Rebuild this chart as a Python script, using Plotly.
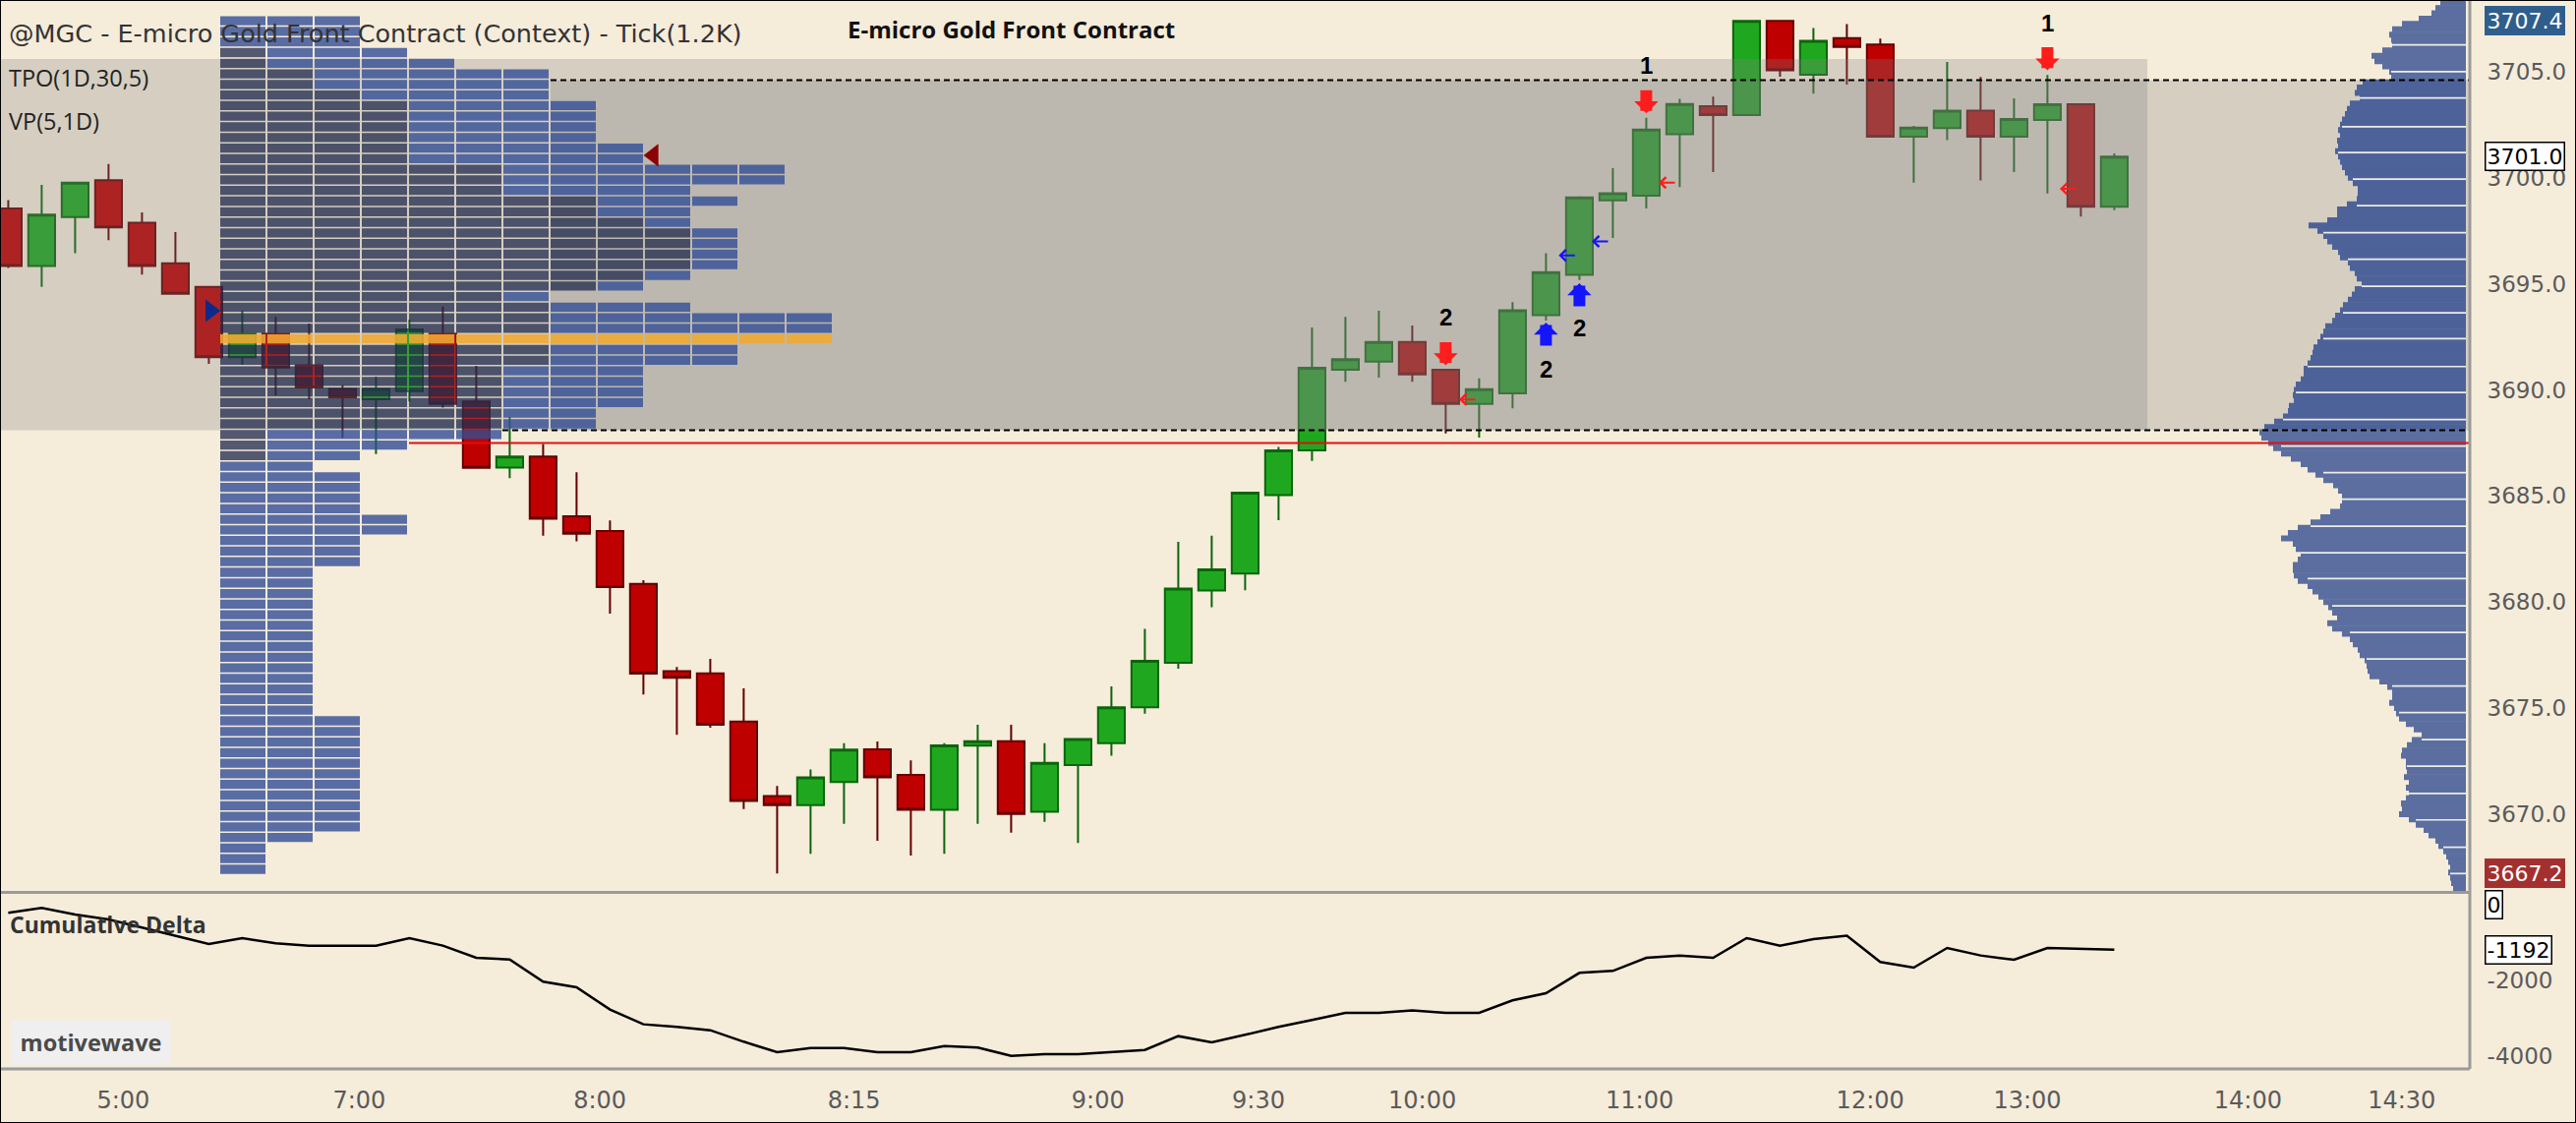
import plotly.graph_objects as go

# ---- bars of the tick chart (1.2K ticks per bar), index 0..63 ----
opens = [3698.55, 3695.84, 3698.15, 3699.88, 3697.88, 3695.97, 3694.86, 3691.54, 3692.65, 3691.16,
         3690.05, 3689.56, 3689.94, 3692.65, 3689.45, 3686.34, 3686.86, 3684.04, 3683.35, 3680.86,
         3676.74, 3676.64, 3674.36, 3670.85, 3670.43, 3671.51, 3673.06, 3671.85, 3670.21, 3673.23,
         3673.44, 3670.11, 3672.32, 3673.34, 3675.04, 3677.14, 3680.54, 3681.34, 3685.04, 3687.15,
         3690.95, 3691.33, 3692.26, 3690.95, 3689.34, 3689.84, 3693.52, 3695.42, 3698.94, 3699.15,
         3702.05, 3703.37, 3702.96, 3707.39, 3704.86, 3706.58, 3706.28, 3701.94, 3702.34, 3703.16,
         3701.94, 3702.72, 3703.47, 3698.63]
highs = [3698.95, 3699.66, 3699.80, 3700.65, 3698.37, 3697.44, 3694.90, 3693.73, 3693.44, 3693.13,
         3690.23, 3690.63, 3693.31, 3693.93, 3691.14, 3688.72, 3687.45, 3686.12, 3683.84, 3681.03,
         3676.94, 3677.32, 3675.93, 3671.33, 3672.11, 3673.34, 3673.43, 3672.53, 3673.34, 3674.22,
         3674.22, 3673.34, 3673.54, 3676.02, 3678.74, 3682.84, 3683.13, 3685.20, 3687.31, 3692.94,
         3693.44, 3693.73, 3693.04, 3690.95, 3690.54, 3694.14, 3696.44, 3699.13, 3700.45, 3702.83,
         3703.72, 3703.83, 3707.40, 3707.39, 3707.06, 3707.24, 3706.56, 3702.45, 3705.46, 3704.75,
         3703.74, 3704.84, 3703.47, 3701.15]
lows = [3695.75, 3694.86, 3696.44, 3697.06, 3695.44, 3694.50, 3691.23, 3691.18, 3689.74, 3689.56,
        3687.74, 3686.97, 3689.45, 3689.16, 3686.30, 3685.84, 3683.13, 3682.86, 3679.45, 3675.64,
        3673.74, 3674.08, 3670.24, 3667.20, 3668.13, 3669.55, 3668.75, 3668.05, 3668.13, 3669.55,
        3669.13, 3669.64, 3668.64, 3672.75, 3674.74, 3676.86, 3679.75, 3680.55, 3683.86, 3686.65,
        3690.38, 3690.58, 3690.38, 3687.95, 3687.75, 3689.13, 3693.27, 3695.18, 3697.16, 3698.55,
        3699.56, 3700.27, 3702.96, 3704.76, 3703.97, 3704.39, 3701.94, 3699.77, 3701.77, 3699.87,
        3700.27, 3699.26, 3698.17, 3698.47]
closes = [3695.84, 3698.26, 3699.77, 3697.66, 3695.84, 3694.53, 3691.54, 3692.65, 3691.05, 3690.12,
          3689.65, 3690.05, 3692.85, 3689.34, 3686.32, 3686.86, 3683.93, 3683.22, 3680.71, 3676.62,
          3676.43, 3674.22, 3670.62, 3670.43, 3671.74, 3673.04, 3671.73, 3670.21, 3673.24, 3673.44,
          3670.01, 3672.42, 3673.54, 3675.04, 3677.23, 3680.63, 3681.54, 3685.16, 3687.15, 3691.04,
          3691.45, 3692.26, 3690.73, 3689.34, 3690.04, 3693.75, 3695.55, 3699.07, 3699.27, 3702.27,
          3703.48, 3702.96, 3707.39, 3705.07, 3706.46, 3706.17, 3701.94, 3702.37, 3703.16, 3701.94,
          3702.77, 3703.47, 3698.63, 3701.00]
bars = list(range(len(opens)))

cum_delta = [-216, -87, -260, -390, -606, -822, -1039, -883, -1022, -1082,
             -1082, -1082, -883, -1082, -1403, -1446, -2035, -2182, -2771, -3160,
             -3229, -3316, -3619, -3896, -3784, -3784, -3896, -3896, -3732, -3775,
             -3991, -3948, -3948, -3888, -3836, -3472, -3636, -3437, -3229, -3048,
             -2857, -2857, -2796, -2857, -2857, -2528, -2338, -1801, -1749, -1403,
             -1342, -1403, -883, -1082, -909, -822, -1515, -1662, -1143, -1342,
             -1455, -1143, -1170, -1192]

# time axis labels sit at fractional bar positions
time_ticks = [3.44, 10.5, 17.7, 25.3, 32.6, 37.4, 42.3, 48.8, 55.7, 60.4, 67.0, 71.6]
time_labels = ["5:00", "7:00", "8:00", "8:15", "9:00", "9:30", "10:00", "11:00",
               "12:00", "13:00", "14:00", "14:30"]
price_ticks = [3670, 3675, 3680, 3685, 3690, 3695, 3700, 3705]

# ---- TPO(1D,30,5): blocks per 0.5 row, from top row down ----
tpo_top = 3707.4
tpo_step = 0.5
tpo_counts = [3, 3, 3, 4, 5, 7, 7, 7, 8, 8,
              8, 8, 9, 9, 12, 12, 10, 11, 10, 10,
              11, 11, 11, 11, 10, 9, 7, 10, 13, 13,
              13, 11, 11, 9, 9, 9, 9, 8, 8, 6,
              4, 3, 2, 3, 3, 3, 3, 4, 4, 3,
              3, 3, 2, 2, 2, 2, 2, 2, 2, 2,
              2, 2, 2, 2, 2, 2, 3, 3, 3, 3,
              3, 3, 3, 3, 3, 3, 3, 2, 1, 1,
              1]
tpo_dark = [0, 0, 0, 1, 1, 2, 2, 3, 4, 4,
            4, 4, 4, 4, 6, 6, 6, 8, 8, 9,
            10, 10, 10, 10, 9, 8, 6, 7, 7, 7,
            0, 7, 7, 6, 6, 6, 6, 6, 6, 1,
            1, 1, 0, 0, 0, 0, 0, 0, 0, 0,
            0, 0, 0, 0, 0, 0, 0, 0, 0, 0,
            0, 0, 0, 0, 0, 0, 0, 0, 0, 0,
            0, 0, 0, 0, 0, 0, 0, 0, 0, 0,
            0]
tpo_poc = 30

# ---- VP(5,1D) on the right, width per 0.25 level from the top down ----
vp_top = 3708.25
vp_step = 0.25
vp_width = [26, 31, 35, 48, 65, 75, 78, 76, 75, 85,
            96, 93, 85, 78, 76, 105, 111, 113, 108, 118,
            121, 123, 126, 128, 130, 128, 131, 130, 133, 130,
            128, 126, 123, 120, 115, 110, 110, 111, 121, 131,
            131, 141, 160, 151, 145, 141, 136, 130, 128, 120,
            118, 113, 111, 106, 113, 116, 120, 125, 128, 133,
            136, 143, 145, 148, 151, 155, 156, 158, 161, 165,
            165, 168, 173, 175, 176, 175, 180, 181, 186, 195,
            205, 210, 208, 201, 196, 188, 178, 168, 161, 153,
            145, 135, 130, 126, 126, 128, 138, 148, 158, 171,
            181, 188, 176, 173, 168, 171, 176, 176, 175, 171,
            161, 156, 150, 145, 140, 136, 131, 141, 136, 126,
            118, 115, 110, 108, 103, 101, 100, 98, 88, 80,
            75, 75, 78, 73, 71, 68, 61, 53, 45, 55,
            60, 65, 66, 61, 61, 60, 63, 58, 61, 58,
            61, 66, 65, 68, 58, 51, 43, 38, 31, 28,
            23, 20, 18, 16, 18, 16, 15, 13]
vp_breaks = [3706.26, 3705.0, 3703.76, 3702.41, 3701.19, 3699.94, 3698.69, 3697.41, 3696.16,
             3694.88, 3693.63, 3692.42, 3691.10, 3689.88, 3688.6, 3687.35, 3686.10, 3684.85,
             3683.57, 3682.32, 3681.10, 3679.82, 3678.57, 3677.32, 3676.04, 3674.79, 3673.51,
             3672.26, 3670.98, 3669.73, 3668.44, 3667.2]

# levels
ctx_high = 3705.6
va_high = 3704.6
va_low = 3688.1
naked_poc = 3687.5
session_high, last_price, session_low = 3707.4, 3701.0, 3667.2

# signals
sell_arrows = [(43, 3691.16), (49, 3703.04), (61, 3705.06)]
buy_arrows = [(46, 3693.17), (47, 3695.03)]
signal_text = [(43, 3693.44, "2"), (49, 3705.32, "1"), (61, 3707.3, "1"),
               (46, 3690.99, "2"), (47, 3692.9, "2")]
exit_red = [(43.4, 3689.55), (49.37, 3699.77), (61.37, 3699.48)]
exit_blue = [(46.38, 3696.34), (47.37, 3697.0)]
marker_right = (6.05, 3693.73)
marker_left = (19.3, 3701.06)

# ---- geometry (pixels of the 2620x1142 picture) ----
W, H = 2620, 1142
PLOT_W, PLOT_H = 2512, 1087
BAR0, BAR_PX = 8.4, 34.0


def px(xp):
    return (xp - BAR0) / BAR_PX


def py(yp):
    return (PLOT_H - yp) / PLOT_H


X_L, X_R = px(0), px(PLOT_W)
price_range = [3666.38, 3708.38]
delta_range = [-4338, 286]

BG = "#f5ecda"
SHADE = "rgba(128,128,128,0.275)"
BLUE = "rgba(50,78,150,0.8)"
DARK = "rgba(30,40,75,0.75)"
POC = "rgba(240,168,48,0.88)"
VP_IN, VP_OUT = "#4d6299", "#5b6e9f"
NUM_FONT = dict(family="DejaVu Sans", size=23, color="#5a5a5a")
TXT = "Open Sans"

fig = go.Figure()

fig.add_trace(go.Candlestick(
    x=bars, open=opens, high=highs, low=lows, close=closes,
    increasing=dict(fillcolor="#1fa81f", line=dict(color="#0b650b", width=2)),
    decreasing=dict(fillcolor="#be0000", line=dict(color="#640000", width=2)),
    whiskerwidth=0, showlegend=False, hoverinfo="skip", xaxis="x", yaxis="y"))

fig.add_trace(go.Scatter(x=bars, y=cum_delta, mode="lines",
                         line=dict(color="black", width=2.5),
                         xaxis="x", yaxis="y2", hoverinfo="skip"))

# value area / context shading (drawn over the candles, under the profiles)
xa1 = px(2184)
xb0 = px(560)
fig.add_trace(go.Scatter(x=[X_L, xa1, xa1, X_L, X_L], y=[va_low, va_low, ctx_high, ctx_high, va_low],
                         fill="toself", fillcolor=SHADE, mode="none", xaxis="x3", yaxis="y3",
                         hoverinfo="skip"))
fig.add_trace(go.Scatter(x=[xb0, X_R, X_R, xb0, xb0], y=[va_low, va_low, va_high, va_high, va_low],
                         fill="toself", fillcolor=SHADE, mode="none", xaxis="x3", yaxis="y3",
                         hoverinfo="skip"))

# TPO blocks
TPO_X0, TPO_PITCH, TPO_W, TPO_H = px(224), 48 / BAR_PX, 46 / BAR_PX, 0.43
tpo_y = {"blue": [], "dark": [], "poc": []}
tpo_b = {"blue": [], "dark": [], "poc": []}
for k, n in enumerate(tpo_counts):
    price = tpo_top - k * tpo_step
    for j in range(n):
        kind = "poc" if k == tpo_poc else ("dark" if j < tpo_dark[k] else "blue")
        tpo_y[kind].append(price)
        tpo_b[kind].append(TPO_X0 + j * TPO_PITCH)
for kind, col in [("blue", BLUE), ("dark", DARK), ("poc", POC)]:
    fig.add_trace(go.Bar(orientation="h", y=tpo_y[kind], x=[TPO_W] * len(tpo_y[kind]),
                         base=tpo_b[kind], width=TPO_H, marker=dict(color=col, line=dict(width=0)),
                         xaxis="x4", yaxis="y4", hoverinfo="skip"))

fig.add_trace(go.Scatter(x=[marker_right[0]], y=[marker_right[1]], mode="markers",
                         marker=dict(symbol="triangle-right", size=20, color="#0b2a8c"),
                         xaxis="x4", yaxis="y4", hoverinfo="skip"))
fig.add_trace(go.Scatter(x=[marker_left[0]], y=[marker_left[1]], mode="markers",
                         marker=dict(symbol="triangle-left", size=20, color="#8b0000"),
                         xaxis="x4", yaxis="y4", hoverinfo="skip"))

# volume profile on the right edge
vp_levels = [vp_top - n * vp_step for n in range(len(vp_width))]
vp_colors = [VP_IN if va_low <= p <= va_high else VP_OUT for p in vp_levels]
fig.add_trace(go.Bar(orientation="h", y=vp_levels, x=vp_width, base=4, width=vp_step * 1.12,
                     marker=dict(color=vp_colors, line=dict(width=0)),
                     xaxis="x5", yaxis="y5", hoverinfo="skip"))
sep_w = []
for b in vp_breaks:
    n = min(len(vp_width) - 2, max(1, round((vp_top - b) / vp_step)))
    sep_w.append(min(vp_width[n - 1:n + 2]))
fig.add_trace(go.Bar(orientation="h", y=vp_breaks, x=sep_w, base=4, width=0.08,
                     marker=dict(color="rgba(245,243,236,0.95)", line=dict(width=0)),
                     xaxis="x5", yaxis="y5", hoverinfo="skip"))

# pointers of the axis tags
tag_x = X_R + 12 / BAR_PX
fig.add_trace(go.Scatter(x=[tag_x] * 3, y=[session_high, last_price, session_low], mode="markers",
                         marker=dict(symbol="triangle-left", size=24,
                                     color=["#2f5e8c", "white", "#a3302f"],
                                     line=dict(color=["#2f5e8c", "black", "#a3302f"], width=1.5)),
                         cliponaxis=False, xaxis="x", yaxis="y", hoverinfo="skip"))
fig.add_trace(go.Scatter(x=[tag_x] * 2, y=[0, cum_delta[-1]], mode="markers",
                         marker=dict(symbol="triangle-left", size=24, color="white",
                                     line=dict(color="black", width=1.5)),
                         cliponaxis=False, xaxis="x", yaxis="y2", hoverinfo="skip"))

# lines
line_specs = [(px(560), va_high, dict(color="black", width=2, dash="6px,4px")),
              (px(511), va_low, dict(color="black", width=2, dash="6px,4px")),
              (px(416), naked_poc, dict(color="#dd1111", width=2))]
for x0, y0, ln in line_specs:
    fig.add_shape(type="line", xref="x", yref="y", x0=x0, x1=X_R, y0=y0, y1=y0,
                  line=ln, layer="above")

# frame lines
fig.add_shape(type="line", xref="paper", yref="paper", x0=0, x1=1, y0=py(907.5), y1=py(907.5),
              line=dict(color="#9a9a9a", width=3))
fig.add_shape(type="line", xref="paper", yref="paper", x0=0, x1=1, y0=0, y1=0,
              line=dict(color="#9a9a9a", width=3))
fig.add_shape(type="line", xref="paper", yref="paper", x0=1, x1=1, y0=0, y1=1,
              line=dict(color="#9a9a9a", width=3))
fig.add_shape(type="rect", xref="paper", yref="paper", x0=0, x1=W / PLOT_W,
              y0=-(H - PLOT_H) / PLOT_H, y1=1, line=dict(color="black", width=2))

# signal arrows
for i, p in sell_arrows:
    fig.add_annotation(x=i, y=p, xref="x", yref="y", text="", showarrow=True, ax=0, ay=-25,
                       arrowhead=1, arrowsize=0.34, arrowwidth=12, arrowcolor="#ff1c1c",
                       standoff=0)
for i, p in buy_arrows:
    fig.add_annotation(x=i, y=p, xref="x", yref="y", text="", showarrow=True, ax=0, ay=25,
                       arrowhead=1, arrowsize=0.34, arrowwidth=12, arrowcolor="#1414ff",
                       standoff=0)
for i, p, t in signal_text:
    fig.add_annotation(x=i, y=p, xref="x", yref="y", text=f"<b>{t}</b>", showarrow=False,
                       font=dict(family="Liberation Sans", size=24, color="black"))
for pts, col in [(exit_red, "#ff1c1c"), (exit_blue, "#1414ff")]:
    for i, p in pts:
        fig.add_annotation(x=i, y=p, xref="x", yref="y", text="", showarrow=True, ax=18, ay=0,
                           arrowhead=4, arrowsize=1.1, arrowwidth=2, arrowcolor=col, standoff=0)

# axis tags
tag_font = dict(family="DejaVu Sans", size=22)
for y, t, bg, fg, bc, yref in [(session_high, "3707.4", "#2f5e8c", "white", "#2f5e8c", "y"),
                               (last_price, "3701.0", "white", "black", "black", "y"),
                               (session_low, "3667.2", "#a3302f", "white", "#a3302f", "y"),
                               (0, "0", "white", "black", "black", "y2"),
                               (cum_delta[-1], f"{cum_delta[-1]}", "white", "black", "black", "y2")]:
    fig.add_annotation(x=1, xref="paper", y=y, yref=yref, xanchor="left", yanchor="middle",
                       xshift=15, text=t, showarrow=False, font=dict(color=fg, **tag_font),
                       bgcolor=bg, bordercolor=bc, borderwidth=1.5, borderpad=1)

# texts
labels = [
    (7, 34, "@MGC - E-micro Gold Front Contract (Context) - Tick(1.2K)", "left",
     dict(family="DejaVu Sans", size=25.5, color="#333333")),
    (1028, 30, "<b>E-micro Gold Front Contract</b>", "center",
     dict(family=TXT, size=24, color="#111111")),
    (7, 79, "TPO(1D,30,5)", "left", dict(family=TXT, size=23.5, color="#222222")),
    (7, 123, "VP(5,1D)", "left", dict(family=TXT, size=23.5, color="#222222")),
    (8, 940, "<b>Cumulative Delta</b>", "left", dict(family=TXT, size=23, color="#333333")),
]
for x, y, t, anc, f in labels:
    fig.add_annotation(x=x / PLOT_W, y=py(y), xref="paper", yref="paper", xanchor=anc,
                       yanchor="middle", text=t, showarrow=False, font=f)
fig.add_annotation(x=11 / PLOT_W, y=py(1060), xref="paper", yref="paper", xanchor="left",
                   yanchor="middle", text="<b>motivewave</b>", showarrow=False, width=159,
                   height=42, align="center", bgcolor="#efefef",
                   font=dict(family=TXT, size=23.5, color="#4a4a4a"))

hidden_x = dict(range=[X_L, X_R], visible=False, overlaying="x")
hidden_y = dict(range=price_range, visible=False, overlaying="y")
fig.update_layout(
    width=W, height=H, margin=dict(l=0, r=W - PLOT_W, t=0, b=H - PLOT_H),
    paper_bgcolor=BG, plot_bgcolor=BG, showlegend=False, hovermode=False,
    barmode="overlay", boxgap=0.2, boxgroupgap=0,
    xaxis=dict(range=[X_L, X_R], anchor="y2", tickvals=time_ticks, ticktext=time_labels,
               showgrid=False, zeroline=False, ticks="outside", ticklen=10, tickcolor=BG,
               tickfont=dict(family="DejaVu Sans", size=24, color="#5a5a5a"),
               rangeslider=dict(visible=False)),
    yaxis=dict(domain=[0.1665, 1], range=price_range, side="right", tickvals=price_ticks,
               ticktext=[f"{v:.1f}" for v in price_ticks], showgrid=False, zeroline=False,
               ticks="outside", ticklen=12, tickcolor=BG, tickfont=NUM_FONT),
    yaxis2=dict(domain=[0, 0.1638], range=delta_range, side="right", tickvals=[-2000, -4000],
                ticktext=["-2000", "-4000"], showgrid=False, zeroline=False,
                ticks="outside", ticklen=12, tickcolor=BG, tickfont=NUM_FONT),
    xaxis3=hidden_x, yaxis3=hidden_y,
    xaxis4=hidden_x, yaxis4=hidden_y,
    xaxis5=dict(range=[PLOT_W, 0], visible=False, overlaying="x"), yaxis5=hidden_y,
)

# the page has a default body margin; remove it so the figure fills the window
fig.write_html("out.html", config={"displayModeBar": False},
               post_script="document.body.style.margin='0';")
